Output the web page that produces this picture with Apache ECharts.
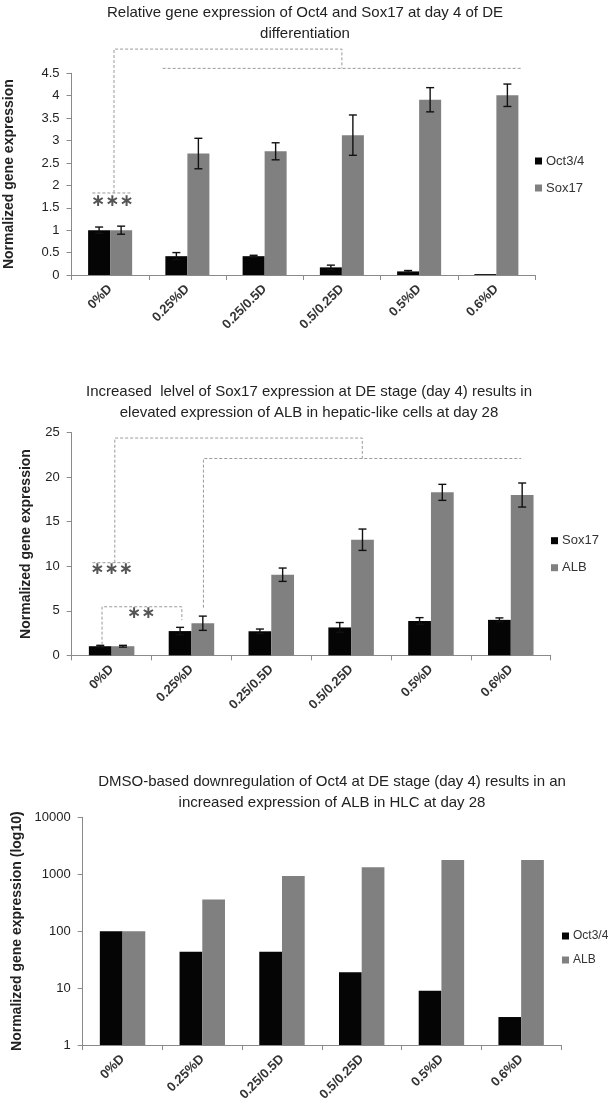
<!DOCTYPE html>
<html><head><meta charset="utf-8">
<script src="https://cdn.jsdelivr.net/npm/echarts@6/dist/echarts.min.js"></script>
<style>html,body{margin:0;padding:0;background:#fff;}
.c{position:absolute;left:0;top:0;width:608px;height:1107px;}</style>
</head><body>
<div id="c1" class="c"></div><div id="c2" class="c"></div><div id="c3" class="c"></div>
<script>
// ---------- DATA ----------
const categories = ['0%D', '0.25%D', '0.25/0.5D', '0.5/0.25D', '0.5%D', '0.6%D'];

// Chart 1: day 4 of DE differentiation
const c1Oct = [1.0, 0.42, 0.42, 0.17, 0.08, 0.02];
const c1OctErr = [0.07, 0.08, 0.02, 0.05, 0.02, 0.0];
const c1Sox = [1.0, 2.71, 2.76, 3.12, 3.91, 4.01];
const c1SoxErr = [0.09, 0.34, 0.19, 0.45, 0.27, 0.25];

// Chart 2: day 28
const c2Sox = [1.02, 2.72, 2.7, 3.13, 3.85, 3.98];
const c2SoxErr = [0.1, 0.42, 0.25, 0.55, 0.38, 0.22];
const c2Alb = [1.02, 3.6, 9.05, 12.98, 18.3, 18.0];
const c2AlbErr = [0.1, 0.8, 0.75, 1.2, 0.9, 1.35];

// Chart 3: log10
const c3Oct = [100, 43.5, 43.5, 19, 9, 3.1];
const c3Alb = [100, 360, 930, 1320, 1780, 1780];

// significance brackets: [category offset, value]
const c1Brackets = [
  [[0.05, 1.83], [0.05, 5.04], [3.0, 5.04], [3.0, 4.61]],
  [[0.68, 4.61], [5.32, 4.61]],
  [[-0.23, 1.83], [0.27, 1.83]]
];
const c1Stars = [[0.03, 1.64, '∗∗∗']];
const c2Brackets = [
  [[0.04, 10.4], [0.04, 24.4], [3.14, 24.4], [3.14, 22.1]],
  [[1.15, 5.35], [1.15, 22.1], [5.13, 22.1]],
  [[-0.24, 10.4], [0.23, 10.4]],
  [[-0.12, 1.2], [-0.12, 5.45], [0.88, 5.45], [0.88, 3.95]]
];
const c2Stars = [[0.0, 9.6, '∗∗∗'], [0.37, 4.65, '∗∗']];

// ---------- STYLE HELPERS ----------
const FONT = 'Liberation Sans';
const AX = '#8a8a8a';
const BLACK = '#050505', GREY = '#808080';
const GAP = 0.57; // fraction of band used by both bars

function xAxis() {
  return {
    type: 'category', data: categories,
    axisLine: { show: true, lineStyle: { color: AX, width: 1 } },
    axisTick: { show: true, length: 5, lineStyle: { color: AX } },
    axisLabel: { rotate: 45, interval: 0, fontSize: 13, fontWeight: 'bold', color: '#333', margin: 12, fontFamily: FONT },
    splitLine: { show: false }
  };
}
function yAxis(extra, name, gap) {
  return Object.assign({
    splitLine: { show: false },
    axisLine: { show: true, lineStyle: { color: AX, width: 1 } },
    axisTick: { show: true, length: 5, lineStyle: { color: AX } },
    axisLabel: { fontSize: 13, color: '#222', margin: 12, fontFamily: FONT },
    name: name, nameLocation: 'middle', nameGap: gap, nameRotate: 90,
    nameTextStyle: { fontSize: 14, fontWeight: 'bold', color: '#222', fontFamily: FONT }
  }, extra);
}
function title(text, x, top) {
  return { text: text, left: x, top: top, textAlign: 'center',
    textStyle: { fontSize: 15, fontWeight: 'normal', color: '#222', lineHeight: 21, fontFamily: FONT } };
}
function legend(names, left, top, gap, size) {
  return { data: names, orient: 'vertical', left: left, top: top, padding: 0,
    itemWidth: 7, itemHeight: 7, itemGap: gap, icon: 'rect', selectedMode: false,
    textStyle: { fontSize: size || 13, color: '#333', lineHeight: 14, fontFamily: FONT, padding: [0, 0, 0, -1] } };
}
function bar(name, vals, color) {
  return { type: 'bar', name: name, data: vals, barGap: '0%', barCategoryGap: '43%',
    itemStyle: { color: color }, emphasis: { disabled: true }, silent: true };
}
function errSeries(vals, errs, side) {
  return {
    type: 'custom', silent: true, z: 5,
    data: vals.map((v, i) => [i, v - errs[i], v + errs[i]]),
    encode: { x: 0, y: [1, 2] },
    renderItem: function (params, api) {
      const lo = api.coord([api.value(0), api.value(1)]);
      const hi = api.coord([api.value(0), api.value(2)]);
      if (Math.abs(lo[1] - hi[1]) < 0.5) return null;
      const band = api.size([1, 0])[0];
      const x = lo[0] + side * band * GAP / 4;
      const cap = 4;
      const st = { stroke: '#111', lineWidth: 1.4 };
      return { type: 'group', children: [
        { type: 'line', shape: { x1: x, y1: lo[1], x2: x, y2: hi[1] }, style: st },
        { type: 'line', shape: { x1: x - cap, y1: hi[1], x2: x + cap, y2: hi[1] }, style: st },
        { type: 'line', shape: { x1: x - cap, y1: lo[1], x2: x + cap, y2: lo[1] }, style: st }
      ] };
    }
  };
}
function bracketSeries(lines, stars) {
  return {
    type: 'custom', silent: true, z: 6, clip: false, data: [[0, 0]],
    renderItem: function (params, api) {
      const band = api.size([1, 0])[0];
      const p = (fx, v) => { const c = api.coord([0, v]); return [c[0] + fx * band, c[1]]; };
      const ch = lines.map(pts => ({
        type: 'polyline', shape: { points: pts.map(q => p(q[0], q[1])) },
        style: { stroke: '#9a9a9a', lineWidth: 1, lineDash: [3, 2], fill: null }
      }));
      stars.forEach(s => {
        const c = p(s[0], s[1]);
        ch.push({ type: 'text', x: c[0], y: c[1], style: { text: s[2], fontSize: 17, fontWeight: 'bold',
          fontFamily: 'DejaVu Sans', fill: '#555', align: 'center', verticalAlign: 'middle' } });
      });
      return { type: 'group', children: ch };
    }
  };
}

// ---------- CHART 1 ----------
echarts.init(document.getElementById('c1'), null, { renderer: 'canvas' }).setOption({
  animation: false,
  title: title('Relative gene expression of Oct4 and Sox17 at day 4 of DE\ndifferentiation', 300, -3),
  legend: legend(['Oct3/4', 'Sox17'], 535, 154, 13),
  grid: { left: 71.5, right: 73, top: 73.3, bottom: 832, outerBoundsMode: 'none' },
  xAxis: xAxis(),
  yAxis: yAxis({ type: 'value', min: 0, max: 4.5, interval: 0.5 }, 'Normalized gene expression', 55),
  series: [
    bar('Oct3/4', c1Oct, BLACK), bar('Sox17', c1Sox, GREY),
    errSeries(c1Oct, c1OctErr, -1), errSeries(c1Sox, c1SoxErr, 1),
    bracketSeries(c1Brackets, c1Stars)
  ]
});

// ---------- CHART 2 ----------
echarts.init(document.getElementById('c2'), null, { renderer: 'canvas' }).setOption({
  animation: false,
  title: title('Increased  lelvel of Sox17 expression at DE stage (day 4) results in\nelevated expression of ALB in hepatic-like cells at day 28', 304, 376),
  legend: legend(['Sox17', 'ALB'], 551, 533.7, 13),
  grid: { left: 71.7, right: 57.3, top: 432.7, bottom: 451.7, outerBoundsMode: 'none' },
  xAxis: xAxis(),
  yAxis: yAxis({ type: 'value', min: 0, max: 25, interval: 5 }, 'Normalized gene expression', 39),
  series: [
    bar('Sox17', c2Sox, BLACK), bar('ALB', c2Alb, GREY),
    errSeries(c2Sox, c2SoxErr, -1), errSeries(c2Alb, c2AlbErr, 1),
    bracketSeries(c2Brackets, c2Stars)
  ]
});

// ---------- CHART 3 ----------
echarts.init(document.getElementById('c3'), null, { renderer: 'canvas' }).setOption({
  animation: false,
  title: title('DMSO-based downregulation of Oct4 at DE stage (day 4) results in an\nincreased expression of ALB in HLC at day 28', 327, 766),
  legend: legend(['Oct3/4', 'ALB'], 562, 929, 10, 12),
  grid: { left: 82.7, right: 47, top: 817.3, bottom: 62, outerBoundsMode: 'none' },
  xAxis: xAxis(),
  yAxis: yAxis({ type: 'log', logBase: 10, min: 1, max: 10000,
    axisLabel: { fontSize: 13, color: '#222', margin: 12, fontFamily: FONT, formatter: v => String(Math.round(v)) } },
    'Normalized gene expression (log10)', 55),
  series: [ bar('Oct3/4', c3Oct, BLACK), bar('ALB', c3Alb, GREY) ]
});
</script>
</body></html>
